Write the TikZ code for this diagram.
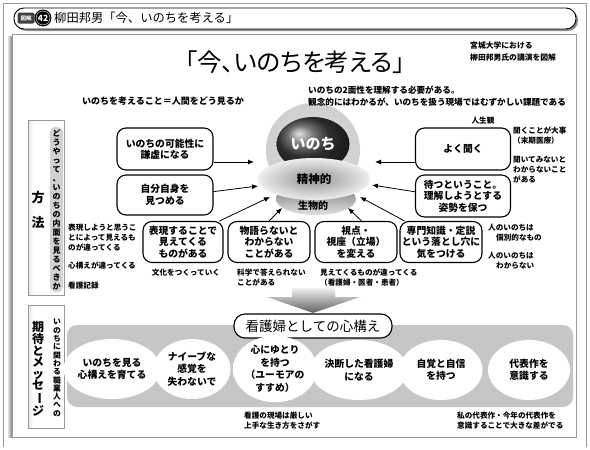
\documentclass[tikz,border=0pt]{standalone}
\usepackage{fontspec}
\setmainfont{Noto Sans CJK JP}
\usepackage{graphicx}
\usepackage{tikz}
\usetikzlibrary{arrows.meta,shapes.geometric,positioning}
\definecolor{LineGray}{HTML}{9A9A9A}
\definecolor{PanelGray}{HTML}{C6C6C6}
\pgfdeclareradialshading{ovalshade}{\pgfpoint{0bp}{0bp}}{color(0bp)=(white); color(33bp)=(white); color(50bp)=(black!32)}
\pgfdeclareradialshading{haloshade}{\pgfpoint{0bp}{0bp}}{color(0bp)=(black!12); color(30bp)=(black!20); color(41bp)=(black!9); color(50bp)=(white)}
\pgfdeclarehorizontalshading{sideshade}{100bp}{color(0bp)=(black!50); color(32bp)=(white); color(100bp)=(white)}
\newcommand{\vlong}{\rotatebox[origin=c]{-90}{ー}}

\begin{document}
\begin{tikzpicture}[x=1pt,y=-1pt,
    box/.style={draw, line width=1.1pt, rounded corners=9pt, fill=white, align=center,
                font=\fontsize{9.8}{11.5}\selectfont\bfseries, inner sep=1pt},
    note/.style={font=\fontsize{7.6}{9.8}\selectfont\bfseries, align=left, inner sep=0pt,
                 anchor=north west},
    arrow/.style={-{Latex[length=6pt,width=5pt]}, line width=0.8pt},
    oval/.style={ellipse, shade, shading=ovalshade, minimum width=81pt, minimum height=60pt,
                 inner sep=0pt, align=center, font=\fontsize{9.8}{12.5}\selectfont\bfseries},
    vtext/.style={align=center, inner sep=0pt},
  ]
    \useasboundingbox (0,0) rectangle (590,450);
    % frame and header
    \draw[LineGray, line width=0.7pt] (3,447) -- (3,3) -- (586,3) -- (586,447);
    \fill[black!45, rounded corners=10pt] (16,10) rectangle (578,31);
    \draw[fill=white, line width=0.9pt, rounded corners=10pt] (14,8) rectangle (576,29);
    \node[fill=black!75, rounded corners=1.5pt, text=white, inner sep=0pt, minimum width=17pt,
          minimum height=11pt, font=\fontsize{5.5}{6}\selectfont\bfseries] (badge) at (26,18) {図解};
    \node[circle, fill=black, text=white, minimum size=17pt, inner sep=0pt,
          font=\fontsize{8.5}{9}\selectfont\bfseries] (num) at (43,18) {42};
    \draw[white, line width=0.4pt] (num.center) circle (7pt);
    \node[anchor=west, inner sep=0pt, font=\fontsize{12.3}{14}\selectfont] (head) at (54,18)
          {柳田邦男「今、いのちを考える」};
    % panel
    \fill[left color=black!12, right color=black!50] (8,36) rectangle (12,437);
    \draw[LineGray, fill=white] (12,34) rectangle (576,437);
    \shade[shading=haloshade] (313,150) circle (47pt);
    \node[font=\fontsize{24.5}{26}\selectfont\addfontfeature{RawFeature=+palt}] (title) at (295,62)
          {「今、いのちを考える」};
    \node[note, font=\fontsize{7.8}{11.5}\selectfont\bfseries] (credit) at (470,42)
          {宮城大学における\\柳田邦男氏の講演を図解};
    \node[note, font=\fontsize{9}{11}\selectfont\bfseries] (theme) at (82,96.5)
          {いのちを考えること＝人間をどう見るか};
    \node[note, font=\fontsize{8.6}{12}\selectfont\bfseries] (twoside) at (308,85.5)
          {いのちの2面性を理解する必要がある。\\観念的にはわかるが、いのちを扱う現場ではむずかしい課題である};

    % side strips
    \shadedraw[shading=sideshade, draw=LineGray] (28,120) rectangle (64,295);
    \fill[black!18, rounded corners=6pt] (50,127) rectangle (63,292);
    \node[vtext, font=\fontsize{13}{25}\selectfont\bfseries] (method) at (38,210) {方\\法};
    \node[vtext, font=\fontsize{8}{9}\selectfont\bfseries] (howto) at (56.5,210)
          {ど\\う\\や\\っ\\て\\、\\い\\の\\ち\\の\\内\\面\\を\\見\\る\\べ\\き\\か};
    \shadedraw[shading=sideshade, draw=LineGray] (28,305) rectangle (64,428);
    \node[vtext, font=\fontsize{12}{11.6}\selectfont\bfseries] (hope) at (38,369)
          {期\\待\\と\\メ\\ッ\\セ\\\vlong\\ジ};
    \node[vtext, font=\fontsize{7.8}{8.3}\selectfont\bfseries] (tothem) at (57,368)
          {い\\の\\ち\\に\\関\\わ\\る\\職\\業\\人\\へ\\の};

    % centre: inochi on its dish
    \node[ellipse, shade, top color=black!55, bottom color=black!12, minimum width=80pt,
          minimum height=32pt] (body) at (316,199) {};
    \node[ellipse, shade, ball color=black!75, minimum width=64pt, minimum height=54pt,
          text=white, font=\fontsize{15}{16}\selectfont\bfseries] (inochi) at (313,144) {いのち};
    \node[ellipse, shade, inner color=black!42, outer color=black!7, minimum width=112pt,
          minimum height=42pt, font=\fontsize{11.5}{12}\selectfont\bfseries] (mind) at (314,179) {精神的};
    \node[font=\fontsize{10}{11}\selectfont\bfseries] (bio) at (313,206) {生物的};

    % boxes
    \node[box, minimum width=96pt, minimum height=42pt] (humble) at (165,149) {いのちの可能性に\\謙虚になる};
    \node[box, minimum width=96pt, minimum height=40pt] (self) at (165,195) {自分自身を\\見つめる};
    \node[box, minimum width=80pt, minimum height=41pt] (express) at (183,242) {表現することで\\見えてくる\\ものがある};
    \node[box, minimum width=82pt, minimum height=41pt] (story) at (269,242) {物語らないと\\わからない\\ことがある};
    \node[box, minimum width=82pt, minimum height=41pt] (view) at (356,242) {視点・\\視座（立場）\\を変える};
    \node[box, minimum width=82pt, minimum height=41pt] (trap) at (441,242) {専門知識・定説\\という落とし穴に\\気をつける};
    \node[box, minimum width=95pt, minimum height=42pt] (listen) at (463,149) {よく聞く};
    \node[box, minimum width=95pt, minimum height=42pt] (wait) at (463,196) {待つということ。\\理解しようとする\\姿勢を保つ};

    \coordinate (t1) at (254,162);
    \coordinate (t2) at (258,186);
    \coordinate (t3) at (270,197);
    \coordinate (t4) at (282,208);
    \coordinate (t5) at (348,208);
    \coordinate (t6) at (360,197);
    \coordinate (t7) at (375,162);
    \coordinate (t8) at (372,185);
    \draw[arrow] (humble.east |- t1) -- (t1);
    \draw[arrow] (self.4) -- (t2);
    \draw[arrow] (express.30) -- (t3);
    \draw[arrow] (story.north) -- (t4);
    \draw[arrow] (view.75) -- (t5);
    \draw[arrow] (trap.150) -- (t6);
    \draw[arrow] (listen.west |- t7) -- (t7);
    \draw[arrow] (wait.175) -- (t8);

    % notes
    \node[note] (n1) at (68,224) {表現しようと思うこ\\とによって見えるも\\のが違ってくる};
    \node[note] (n2) at (68,262) {心構えが違ってくる};
    \node[note] (n3) at (68,282) {看護記録};
    \node[note, anchor=north] (n4) at (186,269) {文化をつくっていく};
    \node[note] (n5) at (237,269) {科学で答えられない\\ことがある};
    \node[note] (n6) at (320,269) {見えてくるものが違ってくる\\（看護婦・医者・患者）};
    \node[note] (n7) at (488,224) {人のいのちは\\\hspace*{8pt}個別的なもの};
    \node[note] (n8) at (488,252) {人のいのちは\\\hspace*{8pt}わからない};
    \node[note, anchor=center] (n9) at (483,121) {人生観};
    \node[note] (n10) at (513,127) {聞くことが大事\\（末期医療）};
    \node[note] (n11) at (513,156) {聞いてみないと\\わからないこと\\がある};

    % lower part
    \shade[top color=black!6, bottom color=black!62] (292,288) -- (335,288) -- (335,297)
          -- (360,297) -- (313,313) -- (267,297) -- (292,297) -- cycle;
    \fill[PanelGray, rounded corners=10pt] (67,325) rectangle (573,407);
    \node[draw, line width=1.1pt, rounded corners=11pt, fill=white, minimum width=158pt,
          minimum height=24pt, font=\fontsize{13.5}{14}\selectfont] (attitude) at (313,326)
          {看護婦としての心構え};
    \node[oval, minimum width=80pt] (e1) at (112,369) {いのちを見る\\心構えを育てる};
    \node[oval, minimum width=77pt] (e2) at (192,369) {ナイーブな\\感覚を\\失わないで};
    \node[oval, minimum width=84pt, minimum height=66pt] (e3) at (275,369) {心にゆとり\\を持つ\\（ユーモアの\\すすめ）};
    \node[oval, minimum width=82pt] (e4) at (359,370) {決断した看護婦\\になる};
    \node[oval, minimum width=83pt] (e5) at (441,370) {自覚と自信\\を持つ};
    \node[oval, minimum width=82pt] (e6) at (529,370) {代表作を\\意識する};
    \node[note] (n12) at (244,412) {看護の現場は厳しい\\上手な生き方をさがす};
    \node[note] (n13) at (457,412) {私の代表作・今年の代表作を\\意識することで大きな差がでる};
  \end{tikzpicture}
\end{document}
